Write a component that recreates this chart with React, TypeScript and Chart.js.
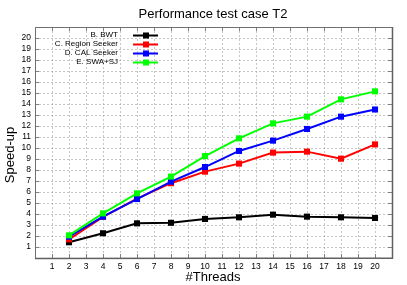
import React, { useEffect, useRef } from "react";
import { Chart, registerables } from "chart.js";

Chart.register(...registerables);

const threads = [2, 4, 6, 8, 10, 12, 14, 16, 18, 20];
const bwt = [1.43, 2.25, 3.15, 3.2, 3.55, 3.7, 3.94, 3.76, 3.7, 3.64];
const regionSeeker = [1.7, 3.73, 5.4, 6.8, 7.85, 8.58, 9.58, 9.67, 9.03, 10.33];
const calSeeker = [1.94, 3.76, 5.36, 6.94, 8.27, 9.73, 10.67, 11.73, 12.85, 13.5];
const swaSj = [2.06, 4.06, 5.88, 7.4, 9.27, 10.88, 12.24, 12.85, 14.42, 15.15];
const seriesNames = ["B. BWT", "C. Region Seeker", "D. CAL Seeker", "E. SWA+SJ"];
const seriesColors = ["#000000", "#ff0000", "#0000ff", "#00ff00"];
const titleText = "Performance test case T2";
const xTitle = "#Threads";
const yTitle = "Speed-up";

const FONT = "'Liberation Sans', Arial, Helvetica, sans-serif";

const decorPlugin = {
  id: "decor",
  afterDatasetsDraw(chart: any) {
    const { ctx, chartArea } = chart;
    const { left, right, top, bottom } = chartArea;
    const xs = chart.scales.x;
    const ys = chart.scales.y;
    ctx.save();
    // inward ticks
    ctx.strokeStyle = "#808080";
    ctx.lineWidth = 1;
    ctx.setLineDash([]);
    const tl = 4;
    for (let v = 1; v <= 20; v++) {
      const px = Math.round(xs.getPixelForValue(v)) + 0.5;
      ctx.beginPath();
      ctx.moveTo(px, bottom);
      ctx.lineTo(px, bottom - tl);
      ctx.moveTo(px, top);
      ctx.lineTo(px, top + tl);
      ctx.stroke();
      const py = Math.round(ys.getPixelForValue(v)) + 0.5;
      ctx.beginPath();
      ctx.moveTo(left, py);
      ctx.lineTo(left + tl, py);
      ctx.moveTo(right, py);
      ctx.lineTo(right - tl, py);
      ctx.stroke();
    }
    // frame
    ctx.strokeStyle = "#707070";
    ctx.lineWidth = 1;
    ctx.strokeRect(Math.round(left) + 0.5, Math.round(top) + 0.5, Math.round(right - left), Math.round(bottom - top));
    ctx.strokeStyle = "#606060";
    ctx.lineWidth = 1.5;
    ctx.beginPath();
    ctx.moveTo(Math.round(right) + 0.5, top);
    ctx.lineTo(Math.round(right) + 0.5, bottom);
    ctx.lineTo(left, Math.round(bottom) + 0.5);
    ctx.stroke();

    // legend
    ctx.font = `8px ${FONT}`;
    ctx.textBaseline = "middle";
    ctx.textAlign = "right";
    const rowsY = [35, 44, 53, 62];
    seriesNames.forEach((name, i) => {
      const y = rowsY[i];
      ctx.fillStyle = "#000";
      ctx.fillText(name, 118, y);
      ctx.strokeStyle = seriesColors[i];
      ctx.lineWidth = 2;
      ctx.beginPath();
      ctx.moveTo(133, y + 0.5);
      ctx.lineTo(158, y + 0.5);
      ctx.stroke();
      ctx.fillStyle = seriesColors[i];
      ctx.fillRect(146 - 3, y + 0.5 - 3, 6, 6);
    });

    // titles
    ctx.fillStyle = "#000";
    ctx.textAlign = "center";
    ctx.font = `13px ${FONT}`;
    ctx.fillText(titleText, 213, 14);
    ctx.fillText(xTitle, 213, 277);
    ctx.translate(10, 155);
    ctx.rotate(-Math.PI / 2);
    ctx.fillText(yTitle, 0, 0);
    ctx.restore();
  },
};

export default function App() {
  const ref = useRef<HTMLCanvasElement | null>(null);
  useEffect(() => {
    document.body.style.margin = "0";
    const canvas = ref.current;
    if (!canvas) return;
    const mk = (vals: number[]) => threads.map((t, i) => ({ x: t, y: vals[i] }));
    const all = [bwt, regionSeeker, calSeeker, swaSj];
    const chart = new Chart(canvas, {
      type: "line",
      data: {
        datasets: all.map((vals, i) => ({
          label: seriesNames[i],
          data: mk(vals),
          borderColor: seriesColors[i],
          backgroundColor: seriesColors[i],
          borderWidth: 2,
          pointStyle: "rect",
          pointRadius: 4.3,
          pointBorderWidth: 0,
          pointHoverRadius: 4.3,
          tension: 0,
          fill: false,
          order: 4 - i,
        })),
      },
      options: {
        responsive: false,
        animation: false,
        events: [],
        layout: { padding: { left: 0, top: 27, right: 15, bottom: 0 } },
        plugins: {
          legend: { display: false },
          title: { display: false },
          tooltip: { enabled: false },
        },
        scales: {
          x: {
            type: "linear",
            min: 0,
            max: 21,
            afterFit: (s: any) => {
              s.height = 27;
            },
            ticks: {
              stepSize: 1,
              autoSkip: false,
              maxRotation: 0,
              padding: 4,
              color: "#000",
              font: { family: FONT, size: 8.5 },
              callback: (v: any) => (v >= 1 && v <= 20 ? String(v) : ""),
            },
            grid: { color: "rgba(160,160,160,0.6)", drawTicks: false, lineWidth: 1 },
            border: { display: false, dash: [2, 2] },
          },
          y: {
            type: "linear",
            min: 0,
            max: 21,
            afterFit: (s: any) => {
              s.width = 35;
            },
            ticks: {
              stepSize: 1,
              autoSkip: false,
              padding: 4,
              color: "#000",
              font: { family: FONT, size: 8.5 },
              callback: (v: any) => (v >= 1 && v <= 20 ? String(v) : ""),
            },
            grid: { color: "rgba(160,160,160,0.6)", drawTicks: false, lineWidth: 1 },
            border: { display: false, dash: [2, 2] },
          },
        },
      },
      plugins: [decorPlugin],
    });
    return () => chart.destroy();
  }, []);
  return <canvas ref={ref} width={407} height={285} style={{ display: "block" }} />;
}
